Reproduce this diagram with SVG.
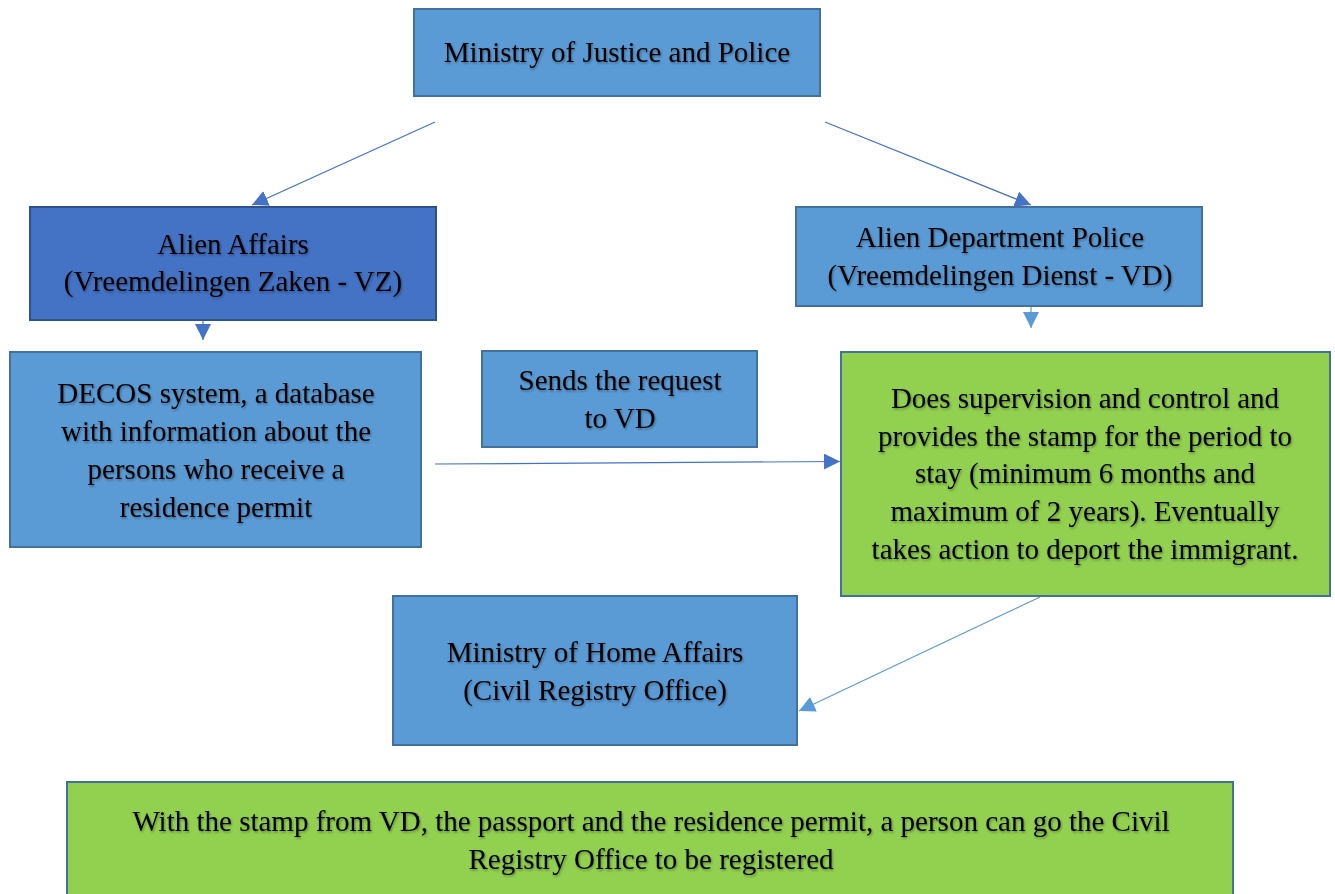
<svg xmlns="http://www.w3.org/2000/svg" width="1335" height="894" viewBox="0 0 1335 894">
  <style>
    .box { stroke-width: 2; }
    .blue { fill: #5B9BD5; stroke: #41719C; }
    .dark { fill: #4472C4; stroke: #2F528F; }
    .green { fill: #92D050; stroke: #41719C; }
    .t { font-family: "Liberation Serif", "Times New Roman", serif; font-size: 29px; fill: #000; text-anchor: middle; filter: url(#sh); }
    .c1 { stroke: #4472C4; stroke-width: 1.2; fill: none; }
    .c2 { stroke: #5B9BD5; stroke-width: 1.2; fill: none; }
  </style>
  <defs>
    <filter id="sh" x="-5%" y="-20%" width="110%" height="150%">
      <feDropShadow dx="1" dy="1.5" stdDeviation="1" flood-color="#000" flood-opacity="0.35"/>
    </filter>
    <marker id="a1" viewBox="0 0 10 10" refX="10" refY="5" markerWidth="10" markerHeight="10" markerUnits="userSpaceOnUse" orient="auto" overflow="visible">
      <path d="M-6,-3 L10,5 L-6,13 Z" fill="#4472C4" transform="scale(1)"/>
    </marker>
    <marker id="m1" viewBox="0 0 16 16" refX="16" refY="8" markerWidth="16" markerHeight="16" markerUnits="userSpaceOnUse" orient="auto">
      <path d="M0,0 L16,8 L0,16 Z" fill="#4472C4"/>
    </marker>
    <marker id="m2" viewBox="0 0 16 16" refX="16" refY="8" markerWidth="16" markerHeight="16" markerUnits="userSpaceOnUse" orient="auto">
      <path d="M0,0 L16,8 L0,16 Z" fill="#5B9BD5"/>
    </marker>
  </defs>

  <g id="connectors">
    <line class="c1" x1="435" y1="122" x2="252" y2="205" marker-end="url(#m1)"/>
    <line class="c1" x1="825" y1="122" x2="1031" y2="205" marker-end="url(#m1)"/>
    <line class="c1" x1="203" y1="320" x2="203" y2="340" marker-end="url(#m1)"/>
    <line class="c2" x1="1031" y1="307" x2="1031" y2="328" marker-end="url(#m2)"/>
    <line class="c1" x1="435" y1="464" x2="840" y2="461.5" marker-end="url(#m1)"/>
    <line class="c2" x1="1040" y1="597" x2="799" y2="711" marker-end="url(#m2)"/>
  </g>

  <g id="n-justice">
    <rect class="box blue" x="414" y="9" width="406" height="87"/>
    <text class="t" x="617" y="62">Ministry of Justice and Police</text>
  </g>

  <g id="n-alien-affairs">
    <rect class="box dark" x="30" y="207" width="406" height="113"/>
    <text class="t" x="233" y="254">Alien Affairs</text>
    <text class="t" x="233" y="291">(Vreemdelingen Zaken - VZ)</text>
  </g>

  <g id="n-alien-police">
    <rect class="box blue" x="796" y="207" width="406" height="99"/>
    <text class="t" x="1000" y="247">Alien Department Police</text>
    <text class="t" x="1000" y="285">(Vreemdelingen Dienst - VD)</text>
  </g>

  <g id="n-decos">
    <rect class="box blue" x="10" y="352" width="411" height="195"/>
    <text class="t" x="216" y="403">DECOS system, a database</text>
    <text class="t" x="216" y="441">with information about the</text>
    <text class="t" x="216" y="479">persons who receive a</text>
    <text class="t" x="216" y="517">residence permit</text>
  </g>

  <g id="n-sends">
    <rect class="box blue" x="482" y="351" width="275" height="96"/>
    <text class="t" x="620" y="390">Sends the request</text>
    <text class="t" x="620" y="428">to VD</text>
  </g>

  <g id="n-supervision">
    <rect class="box green" x="841" y="352" width="489" height="244"/>
    <text class="t" x="1085" y="408">Does supervision and control and</text>
    <text class="t" x="1085" y="446">provides the stamp for the period to</text>
    <text class="t" x="1085" y="483">stay (minimum 6 months and</text>
    <text class="t" x="1085" y="521">maximum of 2 years). Eventually</text>
    <text class="t" x="1085" y="559">takes action to deport the immigrant.</text>
  </g>

  <g id="n-home">
    <rect class="box blue" x="393" y="596" width="404" height="149"/>
    <text class="t" x="595" y="662">Ministry of Home Affairs</text>
    <text class="t" x="595" y="700">(Civil Registry Office)</text>
  </g>

  <g id="n-bottom">
    <rect class="box green" x="67" y="782" width="1166" height="130"/>
    <text class="t" x="651" y="831">With the stamp from VD, the passport and the residence permit, a person can go the Civil</text>
    <text class="t" x="651" y="869">Registry Office to be registered</text>
  </g>
</svg>
